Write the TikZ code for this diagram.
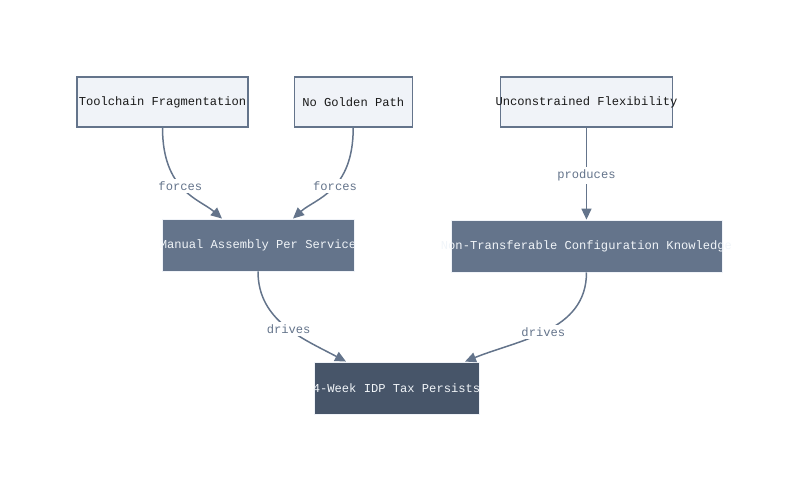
\documentclass[tikz,border=0pt]{standalone}
\usepackage{fontspec}
\setmonofont{Liberation Mono}
\usepackage{xcolor}
\usetikzlibrary{arrows.meta, positioning}
\definecolor{slateline}{HTML}{64748B}
\definecolor{slatelight}{HTML}{F0F3F8}
\definecolor{slatemid}{HTML}{64748B}
\definecolor{slatedark}{HTML}{475569}
\definecolor{slatetext}{HTML}{F1F5F9}

\begin{document}
\begin{tikzpicture}[
    cause/.style={rectangle, draw=slateline, fill=slatelight, line width=0.7pt,
                  minimum height=1.0cm, inner sep=0pt, text=black!90,
                  font=\ttfamily\fontsize{6.9}{8}\selectfont},
    effect/.style={rectangle, draw=slatelight, fill=slatemid, line width=0.5pt,
                  minimum height=1.04cm, inner sep=0pt, text=slatetext,
                  font=\ttfamily\fontsize{6.9}{8}\selectfont},
    lbl/.style={fill=white, inner sep=1.5pt, text=slateline,
                font=\ttfamily\fontsize{6.9}{8}\selectfont},
    arr/.style={-{Triangle[length=2.2mm, width=2mm]}, line width=0.85pt, slateline}
]
\useasboundingbox (0,0) rectangle (16,-9.82);
% top row: the causes
\node[cause, minimum width=3.42cm] (tools) at (3.25,-2.04) {\makebox[0pt]{Toolchain Fragmentation}};
\node[cause, minimum width=2.36cm, right=0.9cm of tools] (golden) {No Golden Path};
\node[cause, minimum width=3.44cm, right=1.74cm of golden] (flex) {\makebox[0pt]{Unconstrained Flexibility}};
% middle row
\node[effect, minimum width=3.84cm] (manual) at (5.16,-4.9) {\makebox[0pt]{Manual Assembly Per Service}};
\node[effect, minimum width=5.42cm, below=1.84cm of flex] (knowhow) {\makebox[0pt]{Non-Transferable Configuration Knowledge}};
% result
\node[effect, fill=slatedark, minimum width=3.3cm] (tax) at (7.93,-7.76) {\makebox[0pt]{4-Week IDP Tax Persists}};

\draw[arr] (tools.south) to[out=-90, in=139, out looseness=1.5, in looseness=0.7] node[lbl, pos=0.45] {forces} ([xshift=-0.72cm]manual.north);
\draw[arr] (golden.south) to[out=-90, in=42, out looseness=1.5, in looseness=0.7] node[lbl, pos=0.45] {forces} ([xshift=0.7cm]manual.north);
\draw[arr] (flex) -- node[lbl, pos=0.52] {produces} (knowhow);
\draw[arr] (manual.south) to[out=-90, in=152] node[lbl, pos=0.53] {drives} ([xshift=-1.01cm]tax.north);
\draw[arr] (knowhow.south) to[out=-90, in=22] node[lbl, pos=0.52] {drives} ([xshift=1.37cm]tax.north);
\end{tikzpicture}
\end{document}
